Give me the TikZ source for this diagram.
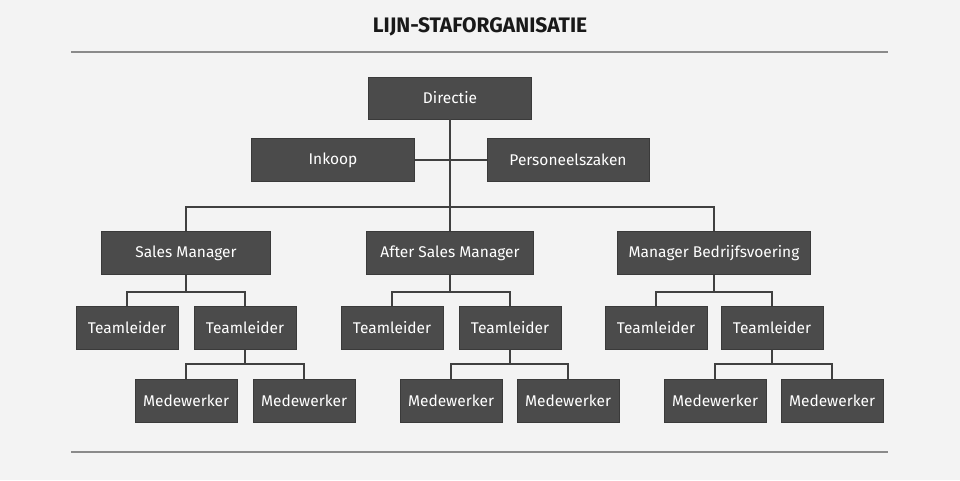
\documentclass[tikz,border=0pt]{standalone}
\usepackage{fontspec}
\setmainfont{Fira Sans}
\begin{document}
\begin{tikzpicture}[x=1pt,y=-1pt,
  box/.style={draw=boxline,fill=boxfill,line width=0.8pt,text=white,inner sep=0pt,anchor=center,font=\fontsize{15.5}{17}\selectfont},
  conn/.style={draw=linecol,line width=1.1pt},
  rule/.style={draw=rulecol,line width=1.2pt}]
\definecolor{bg}{HTML}{F3F3F3}
\definecolor{boxfill}{HTML}{4B4B4B}
\definecolor{boxline}{HTML}{3A3A3A}
\definecolor{linecol}{HTML}{404040}
\definecolor{rulecol}{HTML}{8A8A8A}
\fill[bg] (0,0) rectangle (960,480);
\useasboundingbox (0,0) rectangle (960,480);
\node[font=\bfseries\fontsize{21}{24}\selectfont,text=black!90] (title) at (480,27) {LIJN-STAFORGANISATIE};
\coordinate (r1a) at (71,52); \coordinate (r1b) at (888,52);
\coordinate (r2a) at (71,452); \coordinate (r2b) at (888,452);
\draw[rule] (r1a) -- (r1b);
\draw[rule] (r2a) -- (r2b);
% boxes
\node[box,minimum width=163,minimum height=42] (dir) at (450,98) {Directie};
\node[box,minimum width=163,minimum height=43] (ink) at (333,160) {Inkoop};
\node[box,minimum width=162,minimum height=43] (pers) at (568,160) {Personeelszaken};
\node[box,minimum width=169,minimum height=43] (sm) at (186,253) {Sales Manager};
\node[box,minimum width=167,minimum height=43] (asm) at (450,253) {After Sales Manager};
\node[box,minimum width=193,minimum height=43] (mb) at (714,253) {Manager Bedrijfsvoering};
\node[box,minimum width=102,minimum height=43] (t1) at (127,328) {Teamleider};
\node[box,minimum width=102,minimum height=43] (t2) at (245,328) {Teamleider};
\node[box,minimum width=102,minimum height=43] (t3) at (392,328) {Teamleider};
\node[box,minimum width=102,minimum height=43] (t4) at (510,328) {Teamleider};
\node[box,minimum width=102,minimum height=43] (t5) at (656,328) {Teamleider};
\node[box,minimum width=102,minimum height=43] (t6) at (772,328) {Teamleider};
\node[box,minimum width=102,minimum height=43] (m1) at (186,401) {Medewerker};
\node[box,minimum width=102,minimum height=43] (m2) at (304,401) {Medewerker};
\node[box,minimum width=102,minimum height=43] (m3) at (451,401) {Medewerker};
\node[box,minimum width=102,minimum height=43] (m4) at (568,401) {Medewerker};
\node[box,minimum width=102,minimum height=43] (m5) at (715,401) {Medewerker};
\node[box,minimum width=102,minimum height=43] (m6) at (832,401) {Medewerker};
% connectors
\draw[conn] (dir.south) -- (450,207);
\draw[conn] (ink.east) -- (pers.west);
\draw[conn] (sm.north) -- (186,207) -| (mb.north);
\draw[conn] (450,207) -- (asm.north);
\draw[conn] (sm.south) -- (186,292);
\draw[conn] (t1.north) |- (186,292) -| (t2.north);
\draw[conn] (asm.south) -- (450,292);
\draw[conn] (t3.north) |- (450,292) -| (t4.north);
\draw[conn] (mb.south) -- (714,292);
\draw[conn] (t5.north) |- (714,292) -| (t6.north);
\draw[conn] (t2.south) -- (245,364);
\draw[conn] (m1.north) |- (245,364) -| (m2.north);
\draw[conn] (t4.south) -- (510,364);
\draw[conn] (m3.north) |- (510,364) -| (m4.north);
\draw[conn] (t6.south) -- (772,364);
\draw[conn] (m5.north) |- (772,364) -| (m6.north);
\end{tikzpicture}
\end{document}
